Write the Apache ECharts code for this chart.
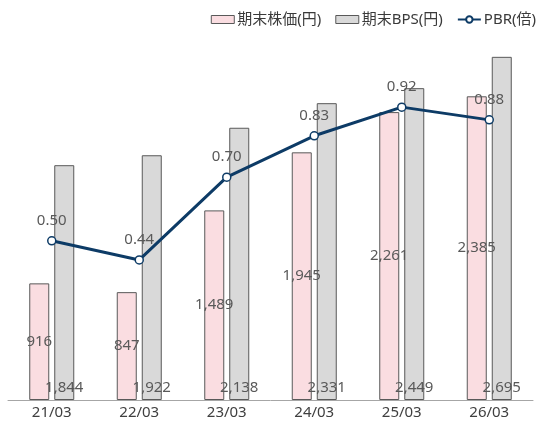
<!DOCTYPE html>
<html>
<head>
<meta charset="utf-8">
<script src="https://cdn.jsdelivr.net/npm/echarts@6/dist/echarts.min.js"></script>
<style>
  html, body { margin: 0; padding: 0; background: #fff; }
  #chart { width: 541px; height: 421px; }
</style>
</head>
<body>
<div id="chart"></div>
<script>
// Fiscal year-ends (March)
const categories = ['21/03', '22/03', '23/03', '24/03', '25/03', '26/03'];
// Share price at period end (yen)
const stockPrice = [916, 847, 1489, 1945, 2261, 2385];
// Book value per share at period end (yen)
const bps = [1844, 1922, 2138, 2331, 2449, 2695];
// Price-to-book ratio (times)
const pbr = [0.50, 0.44, 0.70, 0.83, 0.92, 0.88];

const FONT = "'Noto Sans', 'Noto Sans CJK JP', sans-serif";
const LABEL_COLOR = '#595959';

const fmtInt = p => Number(p.value).toLocaleString('en-US');

const chart = echarts.init(document.getElementById('chart'), null, { renderer: 'canvas' });

chart.setOption({
  animation: false,
  textStyle: { fontFamily: FONT },
  legend: {
    right: 0,
    top: 7,
    itemWidth: 23,
    itemHeight: 8,
    itemGap: 14,
    textStyle: { fontSize: 15, color: '#3a3a3a', fontFamily: FONT, padding: [0, 0, 0, -2] },
    data: [
      { name: '期末株価(円)', icon: 'rect', itemStyle: { borderWidth: 1 } },
      { name: '期末BPS(円)', icon: 'rect', itemStyle: { borderWidth: 1 } },
      { name: 'PBR(倍)' }
    ]
  },
  grid: { left: 8, right: 8, top: 18, bottom: 21, containLabel: false },
  xAxis: {
    type: 'category',
    data: categories,
    axisLine: { show: true, lineStyle: { color: '#a6a6a6', width: 1 } },
    axisTick: { show: false },
    axisLabel: { fontSize: 15, color: '#404040', margin: 5, fontFamily: FONT }
  },
  yAxis: [
    { type: 'value', min: 0, max: 3000, show: false, splitLine: { show: false } },
    { type: 'value', min: 0, max: 1.2, show: false, splitLine: { show: false } }
  ],
  series: [
    {
      name: '期末株価(円)',
      type: 'bar',
      data: stockPrice,
      barWidth: 20,
      barGap: '25%',
      itemStyle: { color: '#fadde1', borderColor: '#595959', borderWidth: 1 },
      label: {
        show: true,
        position: 'inside',
        formatter: fmtInt,
        fontSize: 15,
        color: LABEL_COLOR,
        textBorderWidth: 0,
        fontFamily: FONT
      }
    },
    {
      name: '期末BPS(円)',
      type: 'bar',
      data: bps,
      barWidth: 20,
      itemStyle: { color: '#d9d9d9', borderColor: '#595959', borderWidth: 1 },
      label: {
        show: true,
        position: 'insideBottom',
        distance: 5,
        formatter: fmtInt,
        fontSize: 15,
        color: LABEL_COLOR,
        textBorderWidth: 0,
        fontFamily: FONT
      }
    },
    {
      name: 'PBR(倍)',
      type: 'line',
      yAxisIndex: 1,
      data: pbr,
      symbol: 'circle',
      symbolSize: 8,
      lineStyle: { color: '#0d3b66', width: 3 },
      itemStyle: { color: '#ffffff', borderColor: '#0d3b66', borderWidth: 1.5 },
      label: {
        show: true,
        position: 'top',
        distance: 8,
        formatter: p => Number(p.value).toFixed(2),
        fontSize: 15,
        color: LABEL_COLOR,
        fontFamily: FONT
      },
      z: 5
    }
  ]
});
</script>
</body>
</html>
